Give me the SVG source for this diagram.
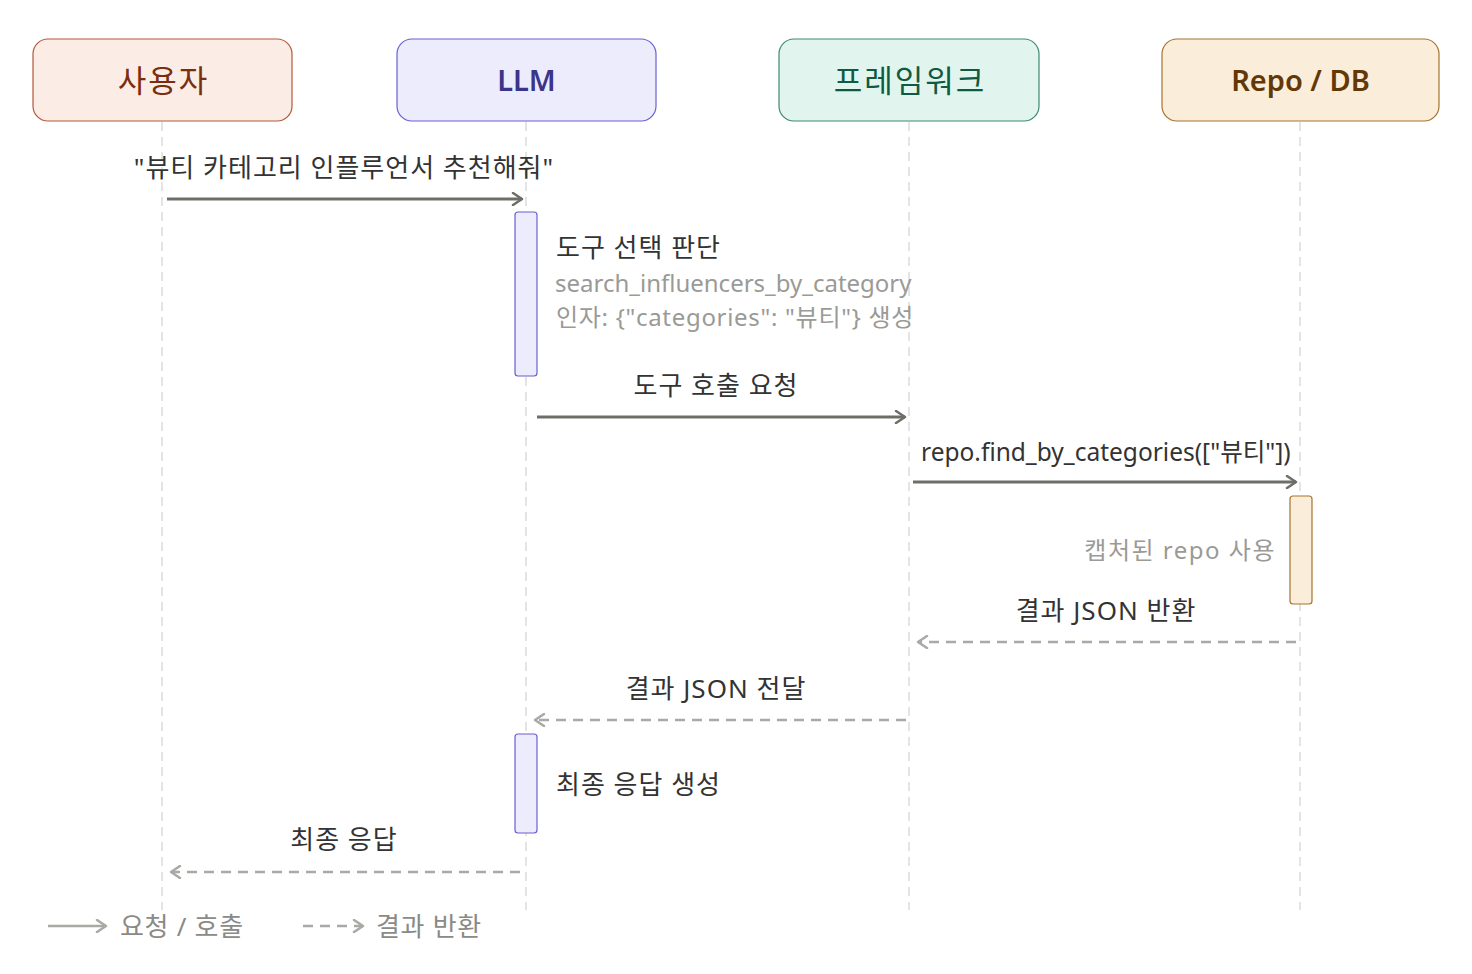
<svg xmlns="http://www.w3.org/2000/svg" width="1472" height="974" viewBox="0 0 1472 974">
<defs>
<style>
text{font-family:"Noto Sans","Noto Sans CJK KR",sans-serif}
.title{font-size:29px;text-anchor:middle}
.kt{font-size:31px;letter-spacing:2px}
.lbl{font-size:26px;fill:#333333;text-anchor:middle;letter-spacing:1px}
.note{font-size:26px;fill:#333333;letter-spacing:1px}
.sub{font-size:24px;fill:#9a9a96}
.life{stroke:#dcdcdc;stroke-width:1.5;stroke-dasharray:9 6;fill:none}
.solid{stroke:#6e6e69;stroke-width:3;fill:none}
.dash{stroke:#a9a9a5;stroke-width:2.5;stroke-dasharray:10 7;fill:none}
.leg{font-size:26px;fill:#8a8a86;letter-spacing:0.7px}
</style>
<marker id="ah" markerWidth="14" markerHeight="14" refX="11" refY="7" orient="auto" markerUnits="userSpaceOnUse">
<path d="M2,1 L11,7 L2,13" fill="none" stroke="#6e6e69" stroke-width="2.5" stroke-linecap="round" stroke-linejoin="round"/>
</marker>
<marker id="ahd" markerWidth="14" markerHeight="14" refX="11" refY="7" orient="auto" markerUnits="userSpaceOnUse">
<path d="M2,1 L11,7 L2,13" fill="none" stroke="#a9a9a5" stroke-width="2.5" stroke-linecap="round" stroke-linejoin="round"/>
</marker>
</defs>
<rect width="1472" height="974" fill="#ffffff"/>

<g id="lifelines">
<line class="life" x1="162" y1="122" x2="162" y2="910"/>
<line class="life" x1="526" y1="122" x2="526" y2="910"/>
<line class="life" x1="909" y1="122" x2="909" y2="910"/>
<line class="life" x1="1300" y1="122" x2="1300" y2="910"/>
</g>

<g id="user">
<rect x="33" y="39" width="259" height="82" rx="15" fill="#fbece6" stroke="#b5573a" stroke-width="1.2"/>
<text class="title kt" x="163.5" y="92" fill="#7a2e10">사용자</text>
</g>
<g id="llm">
<rect x="397" y="39" width="259" height="82" rx="15" fill="#ececfc" stroke="#6a5fd0" stroke-width="1.2"/>
<text class="title" x="526.5" y="91" fill="#3c3489" font-weight="600">LLM</text>
</g>
<g id="framework">
<rect x="779" y="39" width="260" height="82" rx="15" fill="#e1f5ee" stroke="#3d8a70" stroke-width="1.2"/>
<text class="title kt" x="910" y="92" fill="#0f5a42">프레임워크</text>
</g>
<g id="repo">
<rect x="1162" y="39" width="277" height="82" rx="15" fill="#faeedb" stroke="#a8732d" stroke-width="1.2"/>
<text class="title" x="1300.5" y="91" fill="#633806" font-weight="600">Repo / DB</text>
</g>

<g id="activations">
<rect x="515" y="212" width="22" height="164" rx="3" fill="#ececfc" stroke="#6a5fd0" stroke-width="1.2"/>
<rect x="1290" y="496" width="22" height="108" rx="3" fill="#faeedb" stroke="#a8732d" stroke-width="1.2"/>
<rect x="515" y="734" width="22" height="99" rx="3" fill="#ececfc" stroke="#6a5fd0" stroke-width="1.2"/>
</g>

<g id="connectors">
<line class="solid" x1="167" y1="199" x2="522" y2="199" marker-end="url(#ah)"/>
<line class="solid" x1="537" y1="417" x2="905" y2="417" marker-end="url(#ah)"/>
<line class="solid" x1="913" y1="482" x2="1296" y2="482" marker-end="url(#ah)"/>
<line class="dash" x1="1296" y1="642" x2="918" y2="642" marker-end="url(#ahd)"/>
<line class="dash" x1="906" y1="720" x2="535" y2="720" marker-end="url(#ahd)"/>
<line class="dash" x1="520" y1="872" x2="171" y2="872" marker-end="url(#ahd)"/>
</g>

<g id="labels">
<text class="lbl" x="344" y="177">"뷰티 카테고리 인플루언서 추천해줘"</text>
<text class="note" x="556" y="257">도구 선택 판단</text>
<text class="sub" x="555" y="292">search_influencers_by_category</text>
<text class="sub" x="556" y="326" style="letter-spacing:0.7px">인자: {"categories": "뷰티"} 생성</text>
<text class="note" x="921" y="461" style="font-size:24.5px;letter-spacing:0px">repo.find_by_categories(["뷰티"])</text>
<text class="lbl" x="716" y="395">도구 호출 요청</text>
<text class="sub" x="1276" y="559" text-anchor="end" style="letter-spacing:1.5px">캡처된 repo 사용</text>
<text class="lbl" x="1106" y="620">결과 JSON 반환</text>
<text class="lbl" x="716" y="698">결과 JSON 전달</text>
<text class="note" x="556" y="794">최종 응답 생성</text>
<text class="lbl" x="344" y="849">최종 응답</text>
</g>

<g id="legend">
<line x1="48" y1="926" x2="106" y2="926" stroke="#a9a9a5" stroke-width="2.5" marker-end="url(#ahd)"/>
<text class="leg" x="120" y="936">요청 / 호출</text>
<line x1="303" y1="926" x2="363" y2="926" stroke="#a9a9a5" stroke-width="2.5" stroke-dasharray="10 7" marker-end="url(#ahd)"/>
<text class="leg" x="376" y="936">결과 반환</text>
</g>
</svg>
